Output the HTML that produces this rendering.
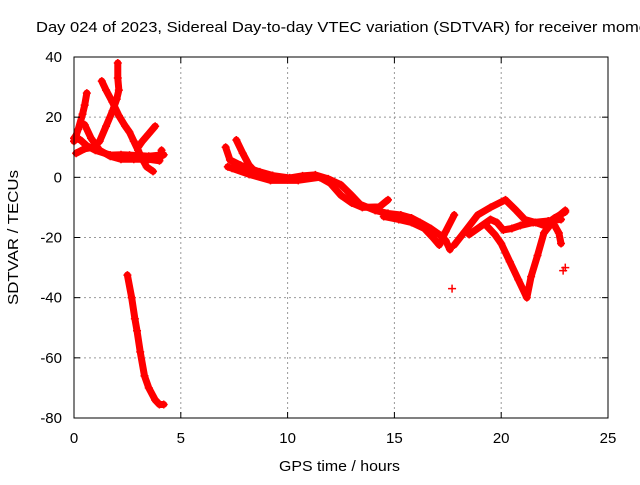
<!DOCTYPE html>
<html><head><meta charset="utf-8"><style>
body{margin:0;background:#fff;width:640px;height:480px;overflow:hidden}
svg text{font-family:"Liberation Sans",sans-serif;font-size:15px;fill:#000}
</style></head><body>
<svg id="chart" width="640" height="480" xmlns="http://www.w3.org/2000/svg">
<text x="36" y="32" textLength="612" lengthAdjust="spacingAndGlyphs">Day 024 of 2023, Sidereal Day-to-day VTEC variation (SDTVAR) for receiver momo</text>
<g id="grid"></g>
<g id="marks"></g>
<rect x="74" y="57" width="534" height="361" fill="none" stroke="#000" stroke-width="1"/>
<g id="ticks"></g>
<text x="279" y="471" textLength="121" lengthAdjust="spacingAndGlyphs">GPS time / hours</text>
<text transform="translate(18,305) rotate(-90)" textLength="135" lengthAdjust="spacingAndGlyphs">SDTVAR / TECUs</text>
</svg>
<script>
const xTicks=[0,5,10,15,20,25];
const yTicks=[40,20,0,-20,-40,-60,-80];
const trackA=[[0,12],[0.1,14],[0.2,16],[0.4,21],[0.5,24],[0.6,28]];
const trackB=[[0,13],[0.3,12.4],[0.6,10.5],[1,9],[1.7,7.4],[2.2,7.5],[2.6,7.4],[3.1,7.2],[3.5,7],[4.2,7.5]];
const trackC=[[1.3,32],[1.5,29],[1.8,25],[2.1,20.5],[2.4,17],[2.6,15],[2.8,12],[3,9],[3.2,6],[3.4,3.5],[3.7,2]];
const trackD=[[2.05,38],[2.05,33],[2.1,29],[2.0,26],[1.8,22],[1.5,17],[1.2,12],[0.9,10],[0.5,9.5],[0.1,8]];
const trackE=[[0.5,17.5],[0.8,13],[1.2,9],[1.7,7],[2.2,6],[2.8,6],[3.5,6],[4.0,5.5],[4.1,9]];
const trackF=[[3.0,10],[3.2,12],[3.5,14.5],[3.8,17]];
const trackG=[[2.5,-32.5],[2.7,-40],[2.85,-47],[2.95,-51],[3.1,-58],[3.3,-66],[3.5,-70],[3.8,-74],[4.0,-75.5],[4.2,-75.5]];
const trackH=[[7.1,10],[7.3,5.8],[7.8,4],[8.2,3],[8.7,1.8],[9.3,0.6],[10.1,-0.2],[10.7,0.5],[11.3,0.8],[11.9,-0.5],[12.5,-2.5],[13.0,-6],[13.4,-9],[14.1,-11],[14.7,-12],[15.3,-12.5],[15.8,-13.5],[16.2,-15],[16.7,-17],[17.1,-19],[17.4,-21],[17.6,-24]];
const trackI=[[7.6,12.4],[7.9,8],[8.2,4],[8.6,1],[9.0,0]];
const trackJ=[[7.2,3.5],[7.4,3],[8.2,1],[9.2,-1],[10.5,-1],[11.5,0],[12.0,-2],[12.5,-6],[13.0,-8.5],[13.5,-10],[14.3,-9.8],[14.7,-7.5]];
const trackK=[[14.5,-13],[15.2,-14],[15.8,-15],[16.4,-17],[16.8,-20],[17.1,-22.5],[17.4,-18],[17.8,-12.5]];
const trackL=[[17.8,-22.5],[18.3,-18],[18.9,-12.5],[19.5,-10],[20.2,-7.5],[20.7,-11],[21.1,-14],[21.6,-15],[22,-16],[22.5,-13.5],[23,-11.5]];
const trackM=[[18.5,-19],[19,-16.5],[19.5,-14],[19.8,-15],[20.1,-17.5],[20.5,-17],[20.9,-16],[21.5,-15],[22.2,-14.5],[22.8,-14]];
const trackN=[[19.3,-16],[19.7,-19],[20.0,-22],[20.4,-28],[20.8,-34],[21.2,-40],[21.4,-33],[21.7,-26],[22,-18.5],[22.5,-14],[23,-11]];
const trackO=[[22.5,-16],[22.7,-18.5],[22.8,-22]];
const points=[[17.7,-37],[22.9,-31],[23.0,-30]];
const tracks=[trackA,trackB,trackC,trackD,trackE,trackF,trackG,trackH,trackI,trackJ,trackK,trackL,trackM,trackN,trackO];
const X0=74,X1=608,Y0=57,Y1=418;
const sx=h=>X0+(h-0)/(25-0)*(X1-X0);
const sy=v=>Y0+(40-v)/(40-(-80))*(Y1-Y0);
const NS="http://www.w3.org/2000/svg";
const grid=document.getElementById('grid'),ticks=document.getElementById('ticks'),marks=document.getElementById('marks');
function mk(tag,attrs,parent){const e=document.createElementNS(NS,tag);for(const k in attrs)e.setAttribute(k,attrs[k]);parent.appendChild(e);return e;}
xTicks.forEach(t=>{const x=sx(t);
 if(t>0&&t<25){const l=mk('line',{x1:x,x2:x,y1:Y0,y2:Y1,stroke:'#999','stroke-dasharray':'2,3'},grid);
 
 }
 mk('line',{x1:x,x2:x,y1:Y1,y2:Y1-6,stroke:'#000'},ticks);mk('line',{x1:x,x2:x,y1:Y0,y2:Y0+6,stroke:'#000'},ticks);
 const tx=mk('text',{x:x,y:Y1+25,'text-anchor':'middle'},ticks);tx.textContent=t;
 
 });
yTicks.forEach(t=>{const y=sy(t);
 if(t<40&&t>-80){const l=mk('line',{x1:X0,x2:X1,y1:y,y2:y,stroke:'#999','stroke-dasharray':'2,3'},grid);
 
 }
 mk('line',{x1:X0,x2:X0+6,y1:y,y2:y,stroke:'#000'},ticks);mk('line',{x1:X1,x2:X1-6,y1:y,y2:y,stroke:'#000'},ticks);
 const tx=mk('text',{x:X0-12,y:y+5,'text-anchor':'end'},ticks);tx.textContent=t;
 
 });
function plus(h,v){const x=sx(h),y=sy(v);
 const p=mk('path',{d:`M${x-4},${y}H${x+4}M${x},${y-4}V${y+4}`,stroke:'#f00','stroke-width':1.5},marks);
 
 }
tracks.forEach(tr=>{
 const pl=mk('polyline',{points:tr.map(p=>sx(p[0])+','+sy(p[1])).join(' '),fill:'none',stroke:'#f00','stroke-width':7,'stroke-linejoin':'round','stroke-linecap':'round'},marks);
 
 
 tr.forEach(p=>plus(p[0],p[1]));});
points.forEach(p=>plus(p[0],p[1]));
</script>
</body></html>
